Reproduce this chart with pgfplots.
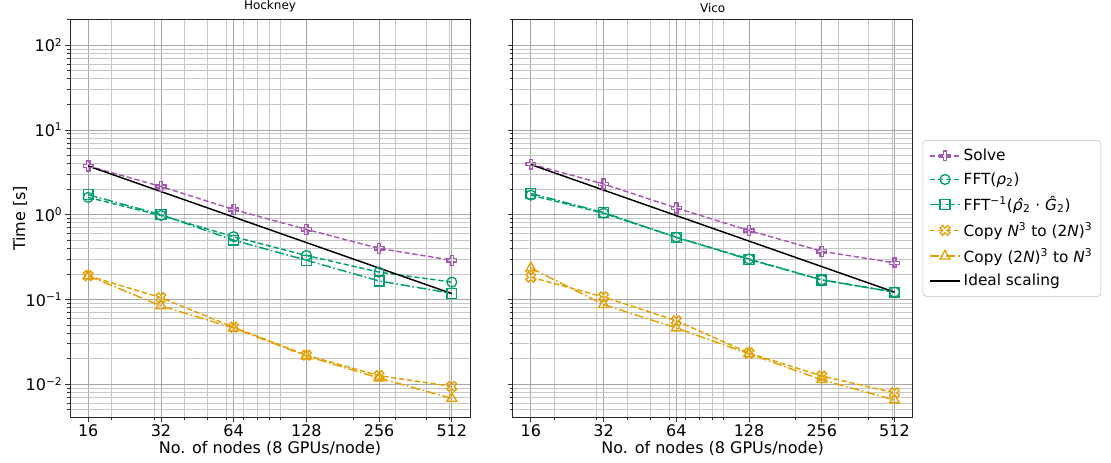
\documentclass[border=0pt]{standalone}
\usepackage{fontspec}
\setmainfont{DejaVu Sans}
\usepackage{pgfplots}
\pgfplotsset{compat=1.18}

\definecolor{cpurple}{RGB}{167,88,180}
\definecolor{cgreen}{RGB}{0,158,115}
\definecolor{corange}{RGB}{230,159,0}

% filled-plus outline (matplotlib "P")
\pgfdeclareplotmark{Pplus}{%
  \pgfpathmoveto{\pgfqpoint{-0.33\pgfplotmarksize}{-\pgfplotmarksize}}%
  \pgfpathlineto{\pgfqpoint{0.33\pgfplotmarksize}{-\pgfplotmarksize}}%
  \pgfpathlineto{\pgfqpoint{0.33\pgfplotmarksize}{-0.33\pgfplotmarksize}}%
  \pgfpathlineto{\pgfqpoint{\pgfplotmarksize}{-0.33\pgfplotmarksize}}%
  \pgfpathlineto{\pgfqpoint{\pgfplotmarksize}{0.33\pgfplotmarksize}}%
  \pgfpathlineto{\pgfqpoint{0.33\pgfplotmarksize}{0.33\pgfplotmarksize}}%
  \pgfpathlineto{\pgfqpoint{0.33\pgfplotmarksize}{\pgfplotmarksize}}%
  \pgfpathlineto{\pgfqpoint{-0.33\pgfplotmarksize}{\pgfplotmarksize}}%
  \pgfpathlineto{\pgfqpoint{-0.33\pgfplotmarksize}{0.33\pgfplotmarksize}}%
  \pgfpathlineto{\pgfqpoint{-\pgfplotmarksize}{0.33\pgfplotmarksize}}%
  \pgfpathlineto{\pgfqpoint{-\pgfplotmarksize}{-0.33\pgfplotmarksize}}%
  \pgfpathlineto{\pgfqpoint{-0.33\pgfplotmarksize}{-0.33\pgfplotmarksize}}%
  \pgfpathclose
  \pgfusepathqstroke
}
% filled-x outline (matplotlib "X")
\pgfdeclareplotmark{Xcross}{%
  \pgftransformrotate{45}%
  \pgfuseplotmark{Pplus}%
}

\pgfplotsset{
  every axis/.append style={
    scale only axis,
    width=300pt, height=298pt,
    xmin=13.45, xmax=608.9, ymin=0.0041, ymax=200,
    xtick={16,32,64,128,256,512},
    xticklabels={16,32,64,128,256,512},
    minor xtick={20,30,40,50,60,70,80,90,100,200,300,400,500},
    ytick={0.01,0.1,1,10,100},
    minor ytick={0.005,0.006,0.007,0.008,0.009,
      0.02,0.03,0.04,0.05,0.06,0.07,0.08,0.09,
      0.2,0.3,0.4,0.5,0.6,0.7,0.8,0.9,
      2,3,4,5,6,7,8,9,20,30,40,50,60,70,80,90,200},
    grid=both,
    major grid style={black!35, line width=0.6pt},
    minor grid style={black!22, line width=0.6pt},
    tick align=outside,
    xtick pos=left, ytick pos=left,
    major tick length=3.5pt, minor tick length=2pt,
    every tick/.style={black!80, line width=0.6pt},
    axis line style={black!85, line width=0.7pt},
    tick label style={font=\fontsize{12}{14}\selectfont, inner sep=2pt},
    label style={font=\fontsize{12}{14}\selectfont},
    title style={font=\fontsize{9}{11}\selectfont, yshift=-4pt},
    xlabel={No. of nodes (8 GPUs/node)},
    xlabel style={yshift=2pt},
    legend image code/.code={%
      \draw[mark repeat=2,mark phase=2] plot coordinates {(0pt,0pt) (11.5pt,0pt) (23pt,0pt)};},
  },
  sSolve/.style={cpurple, line width=1.1pt, dash pattern=on 4pt off 2pt, mark=Pplus, mark size=3.7pt, mark options={solid, line width=1pt}},
  sFftf/.style={cgreen, line width=1.1pt, dash pattern=on 4pt off 2pt, mark=o, mark size=3.7pt, mark options={solid, line width=1pt}},
  sFfti/.style={cgreen, line width=1.1pt, dash pattern=on 7pt off 2pt on 1.2pt off 2pt, mark=square, mark size=3.7pt, mark options={solid, line width=1pt}},
  sCopya/.style={corange, line width=1.1pt, dash pattern=on 4pt off 2pt, mark=Xcross, mark size=3.9pt, mark options={solid, line width=1pt}},
  sCopyb/.style={corange, line width=1.1pt, dash pattern=on 7pt off 2pt on 1.2pt off 2pt, mark=triangle, mark size=4.3pt, mark options={solid, line width=1pt}},
  sIdeal/.style={black, line width=1.1pt, solid},
}

\begin{document}
\begin{tikzpicture}
\begin{loglogaxis}[
  title={Hockney},
  ylabel={Time [s]},
  ylabel style={at={(axis description cs:0,0.5)}, anchor=center, yshift=37.5pt},
  yticklabels={10\textsuperscript{−2},10\textsuperscript{−1},10\textsuperscript{0},10\textsuperscript{1},10\textsuperscript{2}},
]
\addplot[sSolve] coordinates {(16,3.75) (32,2.15) (64,1.15) (128,0.67) (256,0.40) (512,0.29)};
\addplot[sFftf] coordinates {(16,1.6) (32,0.98) (64,0.55) (128,0.33) (256,0.21) (512,0.16)};
\addplot[sFfti] coordinates {(16,1.72) (32,1.0) (64,0.50) (128,0.29) (256,0.165) (512,0.118)};
\addplot[sCopya] coordinates {(16,0.19) (32,0.105) (64,0.047) (128,0.022) (256,0.0126) (512,0.0094)};
\addplot[sCopyb] coordinates {(16,0.19) (32,0.084) (64,0.046) (128,0.0215) (256,0.0118) (512,0.0068)};
\addplot[sIdeal] coordinates {(16,3.75) (512,0.1172)};
\end{loglogaxis}

\begin{loglogaxis}[
  xshift=332pt,
  title={Vico},
  yticklabels={},
  legend cell align=left,
  legend style={at={(1.025,0.5)}, anchor=west, draw=black!25, rounded corners=2.5pt,
    font=\fontsize{11.5}{13.5}\selectfont, row sep=3.5pt, inner sep=4.5pt},
]
\addplot[sSolve] coordinates {(16,3.95) (32,2.3) (64,1.2) (128,0.65) (256,0.37) (512,0.27)};
\addlegendentry{Solve}
\addplot[sFftf] coordinates {(16,1.7) (32,1.04) (64,0.54) (128,0.30) (256,0.17) (512,0.122)};
\addlegendentry{FFT(\textit{ρ}\textsubscript{2})}
\addplot[sFfti] coordinates {(16,1.78) (32,1.06) (64,0.54) (128,0.295) (256,0.17) (512,0.122)};
\addlegendentry{FFT\textsuperscript{−1}(\textit{ρ̂}\textsubscript{2} · \textit{Ĝ}\textsubscript{2})}
\addplot[sCopya] coordinates {(16,0.183) (32,0.107) (64,0.056) (128,0.0233) (256,0.0125) (512,0.0079)};
\addlegendentry{Copy \textit{N}\textsuperscript{3} to (2\textit{N})\textsuperscript{3}}
\addplot[sCopyb] coordinates {(16,0.235) (32,0.087) (64,0.046) (128,0.0228) (256,0.0113) (512,0.0065)};
\addlegendentry{Copy (2\textit{N})\textsuperscript{3} to \textit{N}\textsuperscript{3}}
\addplot[sIdeal] coordinates {(16,3.9) (512,0.122)};
\addlegendentry{Ideal scaling}
\end{loglogaxis}
\pgfresetboundingbox
\path (-52.5pt,-34.5pt) rectangle (780.75pt,312.75pt);
\end{tikzpicture}
\end{document}
